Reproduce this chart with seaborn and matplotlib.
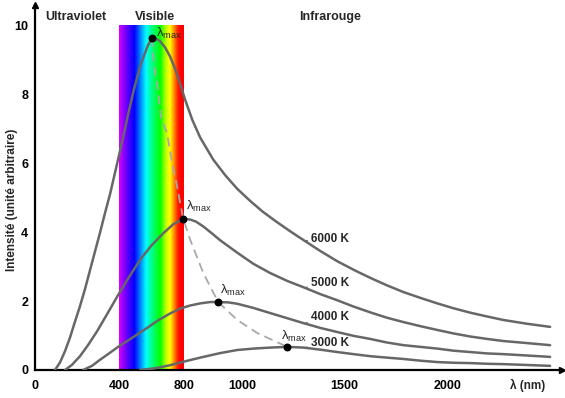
import numpy as np
import pandas as pd
import seaborn as sns
from matplotlib import pyplot as plt
from matplotlib.colors import LinearSegmentedColormap

# curves (wavelength in nm, intensity in arbitrary units)
nm_6000 = [95, 119, 143, 167, 190, 214, 238, 262, 286, 310, 333, 357, 376, 395, 425, 455,
           492, 529, 560, 578, 603, 628, 652, 683, 714, 745, 775, 803, 828, 855, 900, 941,
           983, 1039, 1098, 1162, 1235, 1299, 1382, 1466, 1553, 1626, 1704, 1786, 1869,
           1951, 2029, 2112, 2194, 2272, 2388, 2500]
i_6000 = [0.0, 0.22, 0.55, 0.95, 1.4, 1.85, 2.35, 2.9, 3.45, 4.0, 4.55, 5.1, 5.6, 6.1, 6.75,
          7.4, 8.15, 8.8, 9.2, 9.42, 9.62, 9.6, 9.53, 9.35, 9.08, 8.72, 8.3, 7.84, 7.25,
          6.74, 6.1, 5.65, 5.25, 4.9, 4.6, 4.32, 4.02, 3.77, 3.45, 3.15, 2.88, 2.67, 2.46,
          2.26, 2.09, 1.93, 1.79, 1.66, 1.55, 1.45, 1.34, 1.25]

nm_5000 = [143, 176, 214, 252, 295, 343, 395, 462, 529, 597, 671, 732, 794, 821, 841, 866,
           897, 924, 983, 1054, 1137, 1221, 1299, 1382, 1466, 1544, 1626, 1704, 1786, 1869,
           1951, 2029, 2112, 2194, 2272, 2388, 2500]
i_5000 = [0.0, 0.15, 0.4, 0.72, 1.12, 1.62, 2.17, 2.7, 3.19, 3.6, 3.96, 4.22, 4.38, 4.36,
          4.3, 4.16, 3.95, 3.76, 3.4, 3.08, 2.81, 2.58, 2.4, 2.2, 2.02, 1.84, 1.67, 1.52,
          1.39, 1.27, 1.16, 1.06, 0.97, 0.9, 0.84, 0.78, 0.72]

nm_4000 = [229, 271, 310, 352, 395, 486, 572, 640, 714, 775, 821, 855, 890, 917, 952, 983,
           1054, 1137, 1221, 1299, 1382, 1466, 1544, 1626, 1704, 1786, 1869, 1951, 2029,
           2112, 2194, 2272, 2388, 2500]
i_4000 = [0.0, 0.12, 0.3, 0.48, 0.67, 0.95, 1.22, 1.44, 1.64, 1.78, 1.87, 1.93, 1.97, 1.97,
          1.96, 1.92, 1.8, 1.65, 1.5, 1.36, 1.22, 1.1, 0.99, 0.9, 0.8, 0.72, 0.67, 0.62,
          0.56, 0.52, 0.48, 0.46, 0.42, 0.38]

nm_3000 = [529, 621, 714, 807, 866, 924, 983, 1054, 1137, 1221, 1299, 1382, 1466, 1544,
           1626, 1704, 1786, 1869, 1951, 2029, 2112, 2194, 2272, 2388, 2500]
i_3000 = [0.0, 0.05, 0.14, 0.26, 0.38, 0.49, 0.58, 0.62, 0.65, 0.67, 0.65, 0.59, 0.52,
          0.46, 0.4, 0.36, 0.32, 0.27, 0.23, 0.21, 0.2, 0.18, 0.17, 0.145, 0.12]

# Wien line through the maxima
nm_wien = [603, 615, 634, 658, 695, 726, 757, 794, 821, 866, 917, 983, 1074, 1221]
i_wien = [9.62, 8.8, 8.3, 7.3, 6.86, 6.0, 5.31, 4.38, 3.77, 2.81, 1.97, 1.45, 1.07, 0.67]

peak_nm = [603, 794, 917, 1221]
peak_i = [9.62, 4.38, 1.97, 0.67]

temps = ['6000 K', '5000 K', '4000 K', '3000 K']
label_y = [3.80, 2.51, 1.54, 0.79]

x_ticks = [0, 400, 800, 1000, 1500, 2000]
y_ticks = [0, 2, 4, 6, 8, 10]

spectrum = ['#d000ff', '#8000ff', '#3000ff', '#0000ff', '#0080ff', '#00ffff', '#00ff80',
            '#00ff00', '#c0ff00', '#ffff00', '#ff9000', '#ff2000', '#ff0000', '#ff0000']
spectrum_pos = [0, 5, 11, 15, 21, 27, 33, 41, 47, 51, 55, 59, 62, 65]

# the original axis is not linear: piecewise mapping nm -> pixel
scale_nm = [-1000, 0, 400, 800, 1000, 1500, 2000, 3500]
scale_px = [-175, 35, 119, 184, 242, 344, 447, 754.5]


def forward(x):
    return np.interp(x, scale_nm, scale_px)


def inverse(p):
    return np.interp(p, scale_px, scale_nm)


sns.set_style('white')
plt.rcParams['font.family'] = ['Liberation Sans', 'DejaVu Sans']
plt.rcParams['font.weight'] = 'bold'

fig = plt.figure(figsize=(5.65, 3.98), dpi=100)
ax = fig.add_axes([35 / 565, 28 / 398, 527 / 565, 365 / 398])
ax.set_xscale('function', functions=(forward, inverse))
ax.set_xlim(0, 2558)
ax.set_ylim(0, 10.58)

# visible band
cmap = LinearSegmentedColormap.from_list(
    'spec', [(p / 65, c) for p, c in zip(spectrum_pos, spectrum)])
edges = np.linspace(400, 800, 131)
ax.pcolormesh(edges, [0, 10], np.linspace(0, 1, 130).reshape(1, -1), cmap=cmap,
              shading='flat', zorder=0)

curves = [(nm_6000, i_6000), (nm_5000, i_5000), (nm_4000, i_4000), (nm_3000, i_3000)]
for xs, ys in curves:
    df = pd.DataFrame({'nm': xs, 'I': ys})
    sns.lineplot(data=df, x='nm', y='I', ax=ax, color='#676767', lw=1.8, sort=False,
                 estimator=None, zorder=3)

ax.plot(nm_wien, i_wien, color='#a8a8a8', lw=1.3, ls=(0, (5, 3)), zorder=2)
ax.scatter(peak_nm, peak_i, s=22, color='black', zorder=5)

lmax = 'λ$_{\\mathregular{max}}$'
ax.text(625, 9.75, lmax, fontsize=9.5, fontweight='normal', va='center')
ax.text(808, 4.75, lmax, fontsize=9.5, fontweight='normal', va='center')
ax.text(925, 2.3, lmax, fontsize=9.5, fontweight='normal', va='center')
ax.text(1190, 0.98, lmax, fontsize=9.5, fontweight='normal', va='center')

for (xs, ys), t, ly in zip(curves, temps, label_y):
    cy = np.interp(1305, xs, ys)
    ax.annotate(t, xy=(1305, cy), xytext=(1335, ly), fontsize=8.5, va='center',
                arrowprops=dict(arrowstyle='-', color='#676767', lw=0.9,
                                shrinkA=0, shrinkB=0))

ax.set_xticks(x_ticks)
ax.set_yticks(y_ticks)
ax.tick_params(direction='in', length=4, width=1, labelsize=9, colors='black')
ax.tick_params(axis='x', pad=7)
ax.tick_params(axis='y', pad=5)
ax.set_xlabel('')
ax.set_ylabel('')
fig.text(12 / 565, 1 - 200 / 398, 'Intensité (unité arbitraire)', fontsize=8.5,
         rotation=90, ha='center', va='center')
fig.text(528 / 565, 1 - 385 / 398, 'λ (nm)', fontsize=8.5, ha='center', va='center')

for name in ['top', 'right']:
    ax.spines[name].set_visible(False)
for name in ['left', 'bottom']:
    ax.spines[name].set_linewidth(1.6)
    ax.spines[name].set_color('black')
ax.plot(1, 0, '>k', ms=5, transform=ax.transAxes, clip_on=False)
ax.plot(0, 1, '^k', ms=5, transform=ax.transAxes, clip_on=False)

fig.text(76 / 565, 1 - 17 / 398, 'Ultraviolet', fontsize=9, ha='center', va='center')
fig.text(155 / 565, 1 - 17 / 398, 'Visible', fontsize=9, ha='center', va='center')
fig.text(330 / 565, 1 - 17 / 398, 'Infrarouge', fontsize=9, ha='center', va='center')

fig.savefig('out.png', dpi=100)
